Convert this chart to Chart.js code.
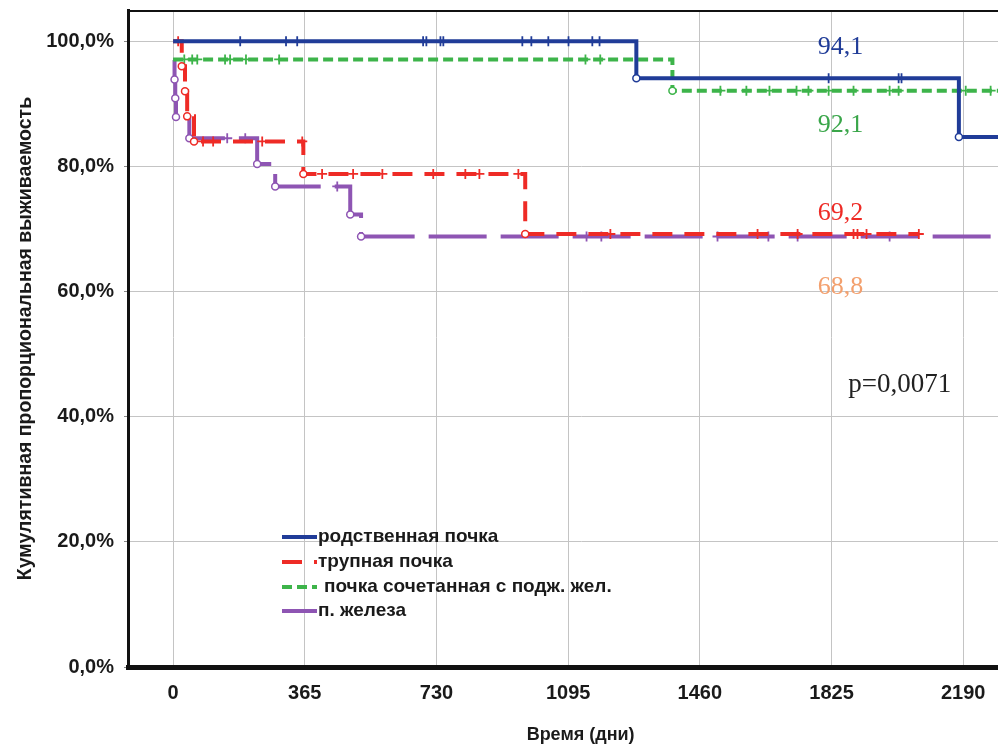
<!DOCTYPE html>
<html lang="ru">
<head>
<meta charset="UTF-8">
<title>Кумулятивная пропорциональная выживаемость</title>
<script src="https://cdn.jsdelivr.net/npm/chart.js"></script>
<style>
  html, body { margin: 0; padding: 0; background: #fff; overflow: hidden; }
  #wrap { width: 1040px; height: 744px; }
</style>
</head>
<body>
<div id="wrap"><canvas id="km" width="1040" height="744"></canvas></div>
<script>
const groups = ['родственная почка', 'трупная почка', 'почка сочетанная с подж. жел.', 'п. железа'];
const xTicks = [0, 365, 730, 1095, 1460, 1825, 2190];
const yTicks = [0, 20, 40, 60, 80, 100];

// survival at 5 years, %
const fiveYear = [94.1, 92.1, 69.2, 68.8];
const pValue = '0,0071';

// step curves: day of event -> survival after it (%)
const relDays = [0, 1284, 2178, 2405];
const relSurv = [100, 94.1, 84.7, 84.7];
const relCens = [186, 313, 344, 693, 702, 741, 749, 968, 993, 1040, 1096, 1162, 1182, 1817, 2011, 2019];

const cadDays = [0, 24, 33, 39, 58, 361, 976, 2067];
const cadSurv = [100, 96, 92, 88, 84, 78.8, 69.2, 69.2];
const cadCens = [14, 83, 111, 247, 358, 413, 499, 580, 721, 810, 849, 957, 1212, 1620, 1731, 1886, 1897, 1922, 2067];

const spkDays = [0, 1384, 2405];
const spkSurv = [97.1, 92.1, 92.1];
const spkCens = [31, 53, 67, 144, 158, 202, 294, 1143, 1184, 1517, 1589, 1653, 1728, 1761, 1817, 1886, 1986, 2011, 2197, 2266];

const panDays = [0, 4, 6, 8, 45, 233, 283, 491, 521, 2405];
const panSurv = [97.0, 93.9, 90.9, 87.9, 84.5, 80.4, 76.8, 72.3, 68.8, 68.8];
const panCens = [150, 200, 455, 1146, 1187, 1509, 1650, 1731, 1986];

const colors = ['#203c98', '#ee2b26', '#3db44a', '#8e55b3'];
const dashes = [[], [20, 12], [10, 5], [58, 14]];

function levelAt(days, surv, t) {
    let v = surv[0];
    for (let i = 0; i < days.length; i++) if (days[i] <= t) v = surv[i];
    return v;
}

function curve(i, days, surv) {
    return {
        type: 'line',
        label: groups[i],
        data: days.map((d, k) => ({ x: d, y: surv[k] })),
        stepped: 'before',
        borderColor: colors[i],
        borderWidth: 4,
        borderDash: dashes[i],
        fill: false,
        pointStyle: 'circle',
        pointRadius: days.map((d, k) => (k === 0 || k === days.length - 1) ? 0 : 3.5),
        pointBackgroundColor: '#fff',
        pointBorderColor: colors[i],
        pointBorderWidth: 1.5,
        order: i * 2 + 1
    };
}

function censored(i, cens, days, surv) {
    return {
        type: 'line',
        label: groups[i] + ' (цензур.)',
        data: cens.map(t => ({ x: t, y: levelAt(days, surv, t) })),
        showLine: false,
        pointStyle: 'cross',
        pointRadius: 5,
        pointBorderWidth: 1.8,
        borderColor: colors[i],
        backgroundColor: colors[i],
        order: i * 2
    };
}

const fmtPct = v => v.toFixed(1).replace('.', ',') + '%';

// frame top line, legend box, 5-year labels, p-value
const overlay = {
    id: 'overlay',
    afterDraw(chart) {
        const { ctx, chartArea: a, scales: { x, y } } = chart;
        ctx.save();
        ctx.strokeStyle = '#111';
        ctx.lineWidth = 2;
        ctx.beginPath();
        ctx.moveTo(a.left, a.top + 1);
        ctx.lineTo(a.right, a.top + 1);
        ctx.stroke();

        // legend
        const rows = [537, 562, 587, 611];
        ctx.font = 'bold 19px "Liberation Sans", Arial, sans-serif';
        ctx.textBaseline = 'middle';
        ctx.textAlign = 'left';
        groups.forEach((g, i) => {
            ctx.strokeStyle = colors[i];
            ctx.lineWidth = 4;
            ctx.setLineDash(dashes[i]);
            ctx.beginPath();
            ctx.moveTo(282, rows[i]);
            ctx.lineTo(317, rows[i]);
            ctx.stroke();
            ctx.setLineDash([]);
            ctx.fillStyle = '#1a1a1a';
            ctx.fillText(g, i === 2 ? 324 : 318, rows[i]);
        });

        // survival labels
        const labelColors = ['#203c98', '#3aa64a', '#ee2b26', '#f3a06e'];
        const labelY = [47, 125, 213, 287];
        ctx.font = '26px "Liberation Serif", "Times New Roman", serif';
        ctx.textAlign = 'center';
        const lx = x.getPixelForValue(1850);
        fiveYear.forEach((v, i) => {
            ctx.fillStyle = labelColors[i];
            ctx.fillText(v.toFixed(1).replace('.', ','), lx, labelY[i]);
        });

        ctx.font = '27px "Liberation Serif", "Times New Roman", serif';
        ctx.fillStyle = '#222';
        ctx.fillText('p=' + pValue, x.getPixelForValue(2014), 385);
        ctx.restore();
    }
};

new Chart(document.getElementById('km'), {
    type: 'line',
    data: {
        datasets: [
            curve(0, relDays, relSurv), censored(0, relCens, relDays, relSurv),
            curve(2, spkDays, spkSurv), censored(2, spkCens, spkDays, spkSurv),
            curve(1, cadDays, cadSurv), censored(1, cadCens, cadDays, cadSurv),
            curve(3, panDays, panSurv), censored(3, panCens, panDays, panSurv)
        ]
    },
    options: {
        responsive: false,
        animation: false,
        layout: { padding: { top: 10, right: 0, left: 0, bottom: 0 } },
        plugins: { legend: { display: false }, tooltip: { enabled: false } },
        scales: {
            x: {
                type: 'linear',
                min: -125,
                max: 2384,
                afterBuildTicks: s => { s.ticks = xTicks.map(v => ({ value: v })); },
                afterFit: s => { s.height = 77; s.paddingLeft = 0; s.paddingRight = 0; },
                grid: { color: '#c4c4c4', lineWidth: 1, drawTicks: false },
                border: { color: '#111', width: 5 },
                ticks: {
                    padding: 14,
                    color: '#1a1a1a',
                    font: { family: '"Liberation Sans", Arial, sans-serif', size: 20, weight: 'bold' },
                    callback: v => String(v)
                },
                title: {
                    display: true,
                    text: 'Время (дни)',
                    color: '#1a1a1a',
                    font: { family: '"Liberation Sans", Arial, sans-serif', size: 18, weight: 'bold' },
                    padding: { top: 0, bottom: -2 }
                }
            },
            y: {
                min: 0,
                max: 105,
                afterBuildTicks: s => { s.ticks = yTicks.map(v => ({ value: v })); },
                afterFit: s => { s.width = 128; s.paddingTop = 0; s.paddingBottom = 0; },
                grid: { color: '#c4c4c4', lineWidth: 1, tickLength: 4, tickColor: '#888' },
                border: { color: '#111', width: 3 },
                ticks: {
                    padding: 10,
                    color: '#1a1a1a',
                    font: { family: '"Liberation Sans", Arial, sans-serif', size: 20, weight: 'bold' },
                    callback: v => fmtPct(v)
                },
                title: {
                    display: true,
                    text: 'Кумулятивная пропорциональная выживаемость',
                    color: '#1a1a1a',
                    font: { family: '"Liberation Sans", Arial, sans-serif', size: 19.5, weight: 'bold' },
                    padding: { top: 14, bottom: 0 }
                }
            }
        }
    },
    plugins: [overlay]
});
</script>
</body>
</html>
